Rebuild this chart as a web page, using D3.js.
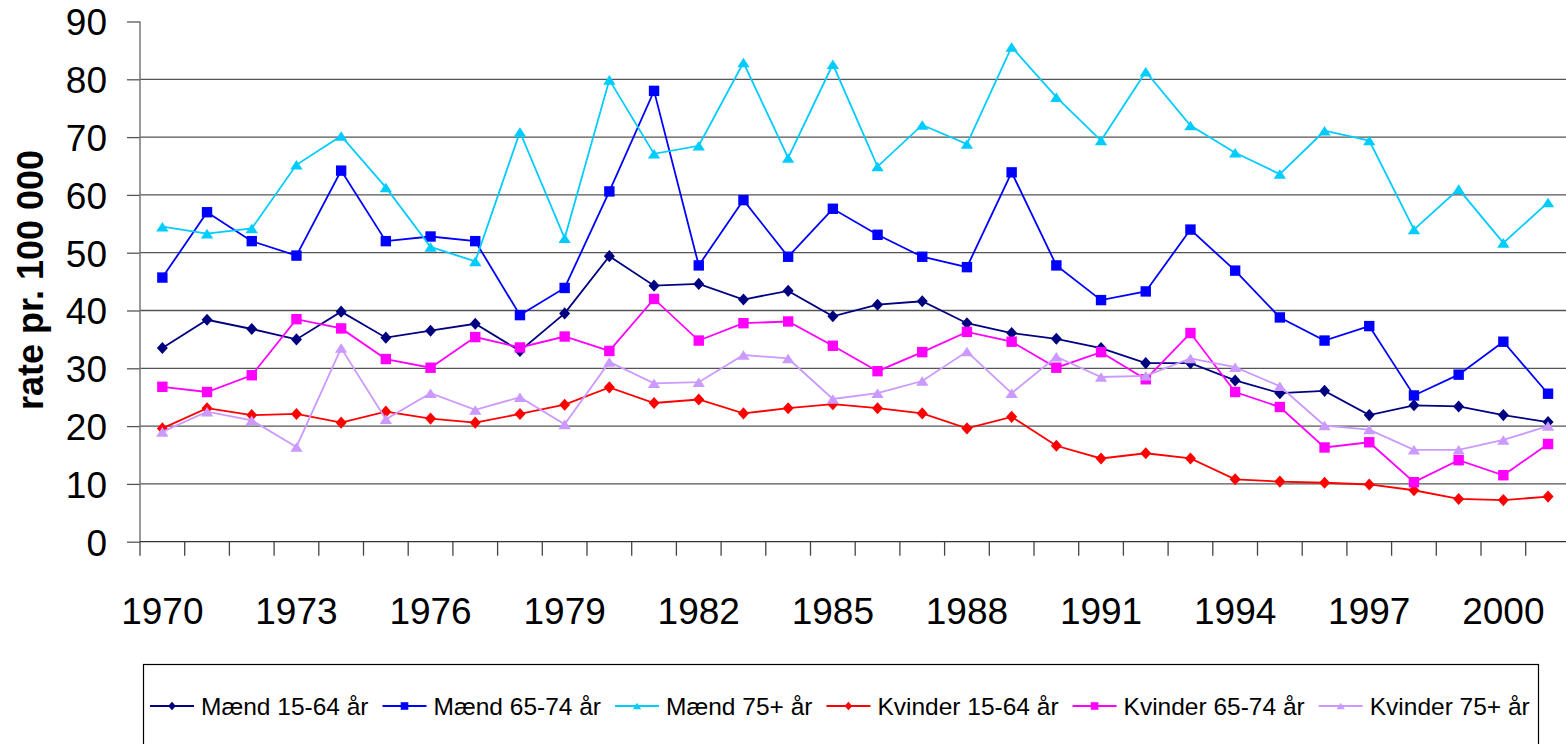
<!DOCTYPE html>
<html>
<head>
<meta charset="utf-8">
<script src="https://cdn.jsdelivr.net/npm/d3@7"></script>
<style>
  body { margin: 0; background: #fff; }
  svg { display: block; font-family: "Liberation Sans", Arial, sans-serif; }
</style>
</head>
<body>
<svg id="chart" width="1566" height="744"></svg>
<script>
// data
var years = d3.range(1970, 2002);
var yTicks = [0, 10, 20, 30, 40, 50, 60, 70, 80, 90];
var xLabels = [1970, 1973, 1976, 1979, 1982, 1985, 1988, 1991, 1994, 1997, 2000];

var maend1564 = [33.5, 38.4, 36.8, 35.0, 39.8, 35.3, 36.5, 37.7, 33.0, 39.5, 49.4, 44.3, 44.6, 41.9, 43.4, 39.0,
                 41.0, 41.6, 37.8, 36.1, 35.1, 33.5, 30.9, 30.9, 27.9, 25.7, 26.1, 21.9, 23.6, 23.4, 21.9, 20.7];
var maend6574 = [45.7, 57.0, 52.0, 49.5, 64.2, 52.0, 52.8, 52.0, 39.2, 43.9, 60.6, 78.0, 47.8, 59.1, 49.3, 57.6,
                 53.1, 49.3, 47.5, 63.9, 47.8, 41.8, 43.3, 54.0, 46.9, 38.8, 34.8, 37.3, 25.3, 28.9, 34.6, 25.6];
var maend75 = [54.5, 53.3, 54.2, 65.2, 70.2, 61.3, 51.0, 48.5, 70.9, 52.5, 79.9, 67.1, 68.5, 82.9, 66.4, 82.6,
               64.9, 72.1, 68.8, 85.6, 76.9, 69.4, 81.3, 72.0, 67.3, 63.6, 71.1, 69.4, 54.0, 61.0, 51.7, 58.7];
var kvinder1564 = [19.6, 23.1, 21.9, 22.1, 20.6, 22.5, 21.3, 20.6, 22.1, 23.7, 26.7, 24.0, 24.6, 22.2, 23.1, 23.8,
                   23.1, 22.2, 19.6, 21.6, 16.6, 14.4, 15.3, 14.4, 10.8, 10.4, 10.2, 9.9, 8.9, 7.4, 7.2, 7.8];
var kvinder6574 = [26.8, 25.9, 28.8, 38.5, 36.9, 31.6, 30.1, 35.4, 33.6, 35.5, 33.0, 42.0, 34.8, 37.8, 38.1, 33.9,
                   29.5, 32.8, 36.3, 34.6, 30.1, 32.8, 28.1, 36.1, 25.9, 23.3, 16.3, 17.2, 10.3, 14.1, 11.5, 16.9];
var kvinder75 = [19.0, 22.5, 21.0, 16.4, 33.5, 21.2, 25.7, 22.8, 25.0, 20.3, 31.1, 27.4, 27.6, 32.3, 31.7, 24.7,
                 25.7, 27.8, 32.9, 25.7, 32.0, 28.5, 28.7, 31.7, 30.2, 26.9, 20.1, 19.4, 15.9, 15.9, 17.6, 20.0];

var seriesNames = ["Mænd 15-64 år", "Mænd 65-74 år", "Mænd 75+ år", "Kvinder 15-64 år", "Kvinder 65-74 år", "Kvinder 75+ år"];
var seriesValues = [maend1564, maend6574, maend75, kvinder1564, kvinder6574, kvinder75];
var seriesColors = ["#000080", "#0000ff", "#00ccff", "#ff0000", "#ff00ff", "#cc99ff"];
var seriesShapes = ["diamond", "square", "triangle", "diamond", "square", "triangle"];

var svg = d3.select("#chart");

var plotLeft = 140, plotTop = 21.5, plotBottom = 541.7;
var step = 44.7;

var x = d3.scaleBand()
  .domain(years)
  .range([plotLeft, plotLeft + step * years.length]);

var y = d3.scaleLinear()
  .domain([0, 90])
  .range([plotBottom, plotTop]);

// marker shape as a path around 0,0
function marker(shape, r) {
  if (shape == "diamond") {
    return "M0," + (-r * 1.1) + "L" + r + ",0L0," + (r * 1.1) + "L" + (-r) + ",0Z";
  }
  if (shape == "square") {
    return "M" + (-r) + "," + (-r) + "h" + (2 * r) + "v" + (2 * r) + "h" + (-2 * r) + "Z";
  }
  var h = r * 1.7;
  return "M0," + (-h / 2) + "L" + (r * 1.1) + "," + (h / 2) + "L" + (-r * 1.1) + "," + (h / 2) + "Z";
}
var markerSize = { diamond: 5.5, square: 5.2, triangle: 5.6 };

// grid lines
svg.append("g")
  .selectAll("line")
  .data(yTicks.filter(function(d) { return d > 0 && d < 90; }))
  .enter().append("line")
  .attr("x1", plotLeft).attr("x2", 1566)
  .attr("y1", function(d) { return y(d); })
  .attr("y2", function(d) { return y(d); })
  .style("stroke", "#555")
  .style("stroke-width", 1.3);

// y axis
var yAxis = d3.axisLeft(y)
  .tickValues(yTicks)
  .tickSize(13)
  .tickPadding(20);

var gy = svg.append("g")
  .attr("transform", "translate(" + plotLeft + ",0)")
  .call(yAxis);
gy.select(".domain").remove();
gy.append("line")
  .attr("x1", 0).attr("x2", 0).attr("y1", plotTop).attr("y2", plotBottom)
  .style("stroke", "#777").style("stroke-width", 1.5);
gy.selectAll(".tick line").style("stroke", "#555").style("stroke-width", 1.3);
gy.selectAll(".tick text")
  .style("font-size", "37px")
  .style("font-family", "Liberation Sans, Arial, sans-serif")
  .style("fill", "#000")
  .attr("dy", "0.36em");

// x axis line and ticks at category edges
svg.append("line")
  .attr("x1", plotLeft).attr("x2", 1566)
  .attr("y1", plotBottom).attr("y2", plotBottom)
  .style("stroke", "#333").style("stroke-width", 1.3);

svg.append("g")
  .selectAll("line")
  .data(years)
  .enter().append("line")
  .attr("x1", function(d) { return x(d); })
  .attr("x2", function(d) { return x(d); })
  .attr("y1", plotBottom).attr("y2", plotBottom + 14)
  .style("stroke", "#444").style("stroke-width", 1.3);

svg.append("g")
  .selectAll("text")
  .data(xLabels)
  .enter().append("text")
  .attr("x", function(d) { return x(d) + x.bandwidth() / 2; })
  .attr("y", 624)
  .attr("text-anchor", "middle")
  .style("font-size", "37px")
  .text(function(d) { return d; });

// y axis title
svg.append("text")
  .attr("transform", "translate(43,280) rotate(-90)")
  .attr("text-anchor", "middle")
  .style("font-size", "36px")
  .style("font-weight", "bold")
  .text("rate pr. 100 000");

// lines and markers
var line = d3.line()
  .x(function(d, i) { return x(years[i]) + x.bandwidth() / 2; })
  .y(function(d) { return y(d); });

seriesValues.forEach(function(vals, k) {
  var g = svg.append("g");
  g.append("path")
    .attr("d", line(vals))
    .style("fill", "none")
    .style("stroke", seriesColors[k])
    .style("stroke-width", 1.8);
  g.selectAll(".mk")
    .data(vals)
    .enter().append("path")
    .attr("class", "mk")
    .attr("transform", function(d, i) {
      return "translate(" + (x(years[i]) + x.bandwidth() / 2) + "," + y(d) + ")";
    })
    .attr("d", marker(seriesShapes[k], markerSize[seriesShapes[k]]))
    .style("fill", seriesColors[k]);
});

// legend
svg.append("rect")
  .attr("x", 143.5).attr("y", 664.5)
  .attr("width", 1395).attr("height", 120)
  .style("fill", "none").style("stroke", "#000").style("stroke-width", 1.2);

var lx = 150;
seriesNames.forEach(function(name, k) {
  var lg = svg.append("g").attr("transform", "translate(" + lx + ",706)");
  lg.append("line")
    .attr("x1", 0).attr("x2", 44)
    .style("stroke", seriesColors[k]).style("stroke-width", 1.8);
  lg.append("path")
    .attr("transform", "translate(22,0)")
    .attr("d", marker(seriesShapes[k], 3.8))
    .style("fill", seriesColors[k]);
  var t = lg.append("text")
    .attr("x", 51).attr("y", 9)
    .style("font-size", "24.5px")
    .text(name);
  lx += 51 + t.node().getComputedTextLength() + 14;
});
</script>
</body>
</html>
